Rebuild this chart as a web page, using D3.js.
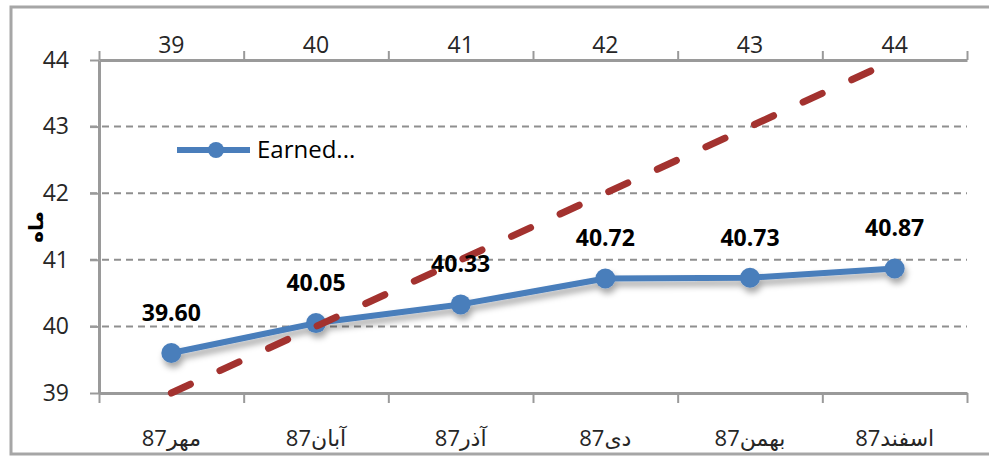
<!DOCTYPE html>
<html>
<head>
<meta charset="utf-8">
<script src="https://cdn.jsdelivr.net/npm/d3@7"></script>
<style>
  body { margin: 0; background: #fff; }
  text { font-family: "Open Sans", "Noto Sans", "DejaVu Sans", sans-serif; }
</style>
</head>
<body>
<div id="chart"></div>
<script>
const categories = ['مهر87', 'آبان87', 'آذر87', 'دی87', 'بهمن87', 'اسفند87']
const earned = [39.60, 40.05, 40.33, 40.72, 40.73, 40.87]
const topTicks = [39, 40, 41, 42, 43, 44]
const yTicks = [39, 40, 41, 42, 43, 44]
const refLine = [[39, 39], [44, 44]]

const width = 989
const height = 457
const margin = { top: 60, right: 22, bottom: 64, left: 99 }

const svg = d3.select('#chart').append('svg')
  .attr('width', width)
  .attr('height', height)

// shadow under the blue line
const defs = svg.append('defs')
defs.append('filter').attr('id', 'shadow')
  .attr('x', '-10%').attr('y', '-50%').attr('width', '120%').attr('height', '200%')
  .append('feDropShadow')
  .attr('dx', 2).attr('dy', 5).attr('stdDeviation', 3)
  .attr('flood-color', '#000').attr('flood-opacity', 0.35)

// outer frame
svg.append('rect')
  .attr('x', 11).attr('y', 7)
  .attr('width', width - 8).attr('height', 447)
  .attr('fill', 'none').attr('stroke', '#a6a6a6').attr('stroke-width', 3)

const x = d3.scaleBand()
  .domain(categories)
  .range([margin.left, width - margin.right])

const xTop = d3.scaleLinear()
  .domain([38.5, 44.5])
  .range([margin.left, width - margin.right])

const y = d3.scaleLinear()
  .domain([39, 44])
  .range([height - margin.bottom, margin.top])

// gridlines
svg.append('g')
  .selectAll('line')
  .data(yTicks.slice(1, -1))
  .enter()
  .append('line')
  .attr('x1', margin.left - 9)
  .attr('x2', width - margin.right)
  .attr('y1', d => y(d))
  .attr('y2', d => y(d))
  .attr('stroke', '#8f8f8f')
  .attr('stroke-width', 2)
  .attr('stroke-dasharray', '7,5')

function styleAxis (g) {
  g.select('.domain').attr('stroke', '#9a9a9a').attr('stroke-width', 3)
  g.selectAll('.tick line').attr('stroke', '#9a9a9a').attr('stroke-width', 2)
  g.selectAll('.tick text').attr('fill', '#262626').style('font-size', '23px')
}

// left axis
svg.append('g')
  .attr('transform', `translate(${margin.left},0)`)
  .call(d3.axisLeft(y).tickValues(yTicks).tickSize(9).tickSizeOuter(0).tickPadding(21).tickFormat(d3.format('d')))
  .call(styleAxis)

// bottom axis: ticks between categories
const bottom = svg.append('g')
  .attr('transform', `translate(0,${height - margin.bottom})`)
  .call(d3.axisBottom(xTop).tickValues(d3.range(38.5, 45, 1)).tickSize(10).tickSizeOuter(0).tickFormat(''))
  .call(styleAxis)
bottom.selectAll('.cat')
  .data(categories)
  .enter()
  .append('text')
  .attr('class', 'cat')
  .attr('x', d => x(d) + x.bandwidth() / 2)
  .attr('y', 53)
  .attr('text-anchor', 'middle')
  .attr('fill', '#262626')
  .style('font-size', '22px')
  .text(d => d)

// top axis
svg.append('g')
  .attr('transform', `translate(0,${margin.top})`)
  .call(d3.axisTop(xTop).tickValues(d3.range(38.5, 45, 1)).tickSize(9).tickSizeOuter(0).tickFormat(''))
  .call(styleAxis)
  .selectAll('.lbl')
  .data(topTicks)
  .enter()
  .append('text')
  .attr('class', 'lbl')
  .attr('x', d => xTop(d))
  .attr('y', -7)
  .attr('text-anchor', 'middle')
  .attr('fill', '#262626')
  .style('font-size', '23px')
  .text(d => d)

// y axis title
svg.append('text')
  .attr('transform', `translate(43,227) rotate(-90)`)
  .attr('text-anchor', 'middle')
  .attr('fill', '#000')
  .style('font-size', '20px')
  .style('font-weight', 'bold')
  .text('ماه')

// blue series
const cx = d => x(d) + x.bandwidth() / 2
const series = svg.append('g').attr('filter', 'url(#shadow)')
series.append('path')
  .datum(earned)
  .attr('fill', 'none')
  .attr('stroke', '#4a7ebb')
  .attr('stroke-width', 6)
  .attr('stroke-linejoin', 'round')
  .attr('d', d3.line().x((d, i) => cx(categories[i])).y(d => y(d)))
series.selectAll('circle')
  .data(earned)
  .enter()
  .append('circle')
  .attr('cx', (d, i) => cx(categories[i]))
  .attr('cy', d => y(d))
  .attr('r', 10)
  .attr('fill', '#4a7ebb')

// red dashed reference line (top axis vs left axis)
svg.append('path')
  .datum(refLine)
  .attr('fill', 'none')
  .attr('stroke', '#a3322f')
  .attr('stroke-width', 7)
  .attr('stroke-linecap', 'round')
  .attr('stroke-dasharray', '21,32.5')
  .attr('d', d3.line().x(d => xTop(d[0])).y(d => y(d[1])))

// data labels
svg.append('g')
  .selectAll('text')
  .data(earned)
  .enter()
  .append('text')
  .attr('x', (d, i) => cx(categories[i]))
  .attr('y', d => y(d) - 32)
  .attr('text-anchor', 'middle')
  .attr('fill', '#000')
  .style('font-size', '23px')
  .style('font-weight', 'bold')
  .text(d => d3.format('.2f')(d))

// legend
const legend = svg.append('g').attr('transform', 'translate(177,150)')
legend.append('line')
  .attr('x1', 0).attr('x2', 73)
  .attr('stroke', '#4a7ebb').attr('stroke-width', 6)
legend.append('circle')
  .attr('cx', 39).attr('r', 8).attr('fill', '#4a7ebb')
legend.append('text')
  .attr('x', 80).attr('y', 8)
  .attr('fill', '#000')
  .style('font-size', '24px')
  .text('Earned...')
</script>
</body>
</html>
